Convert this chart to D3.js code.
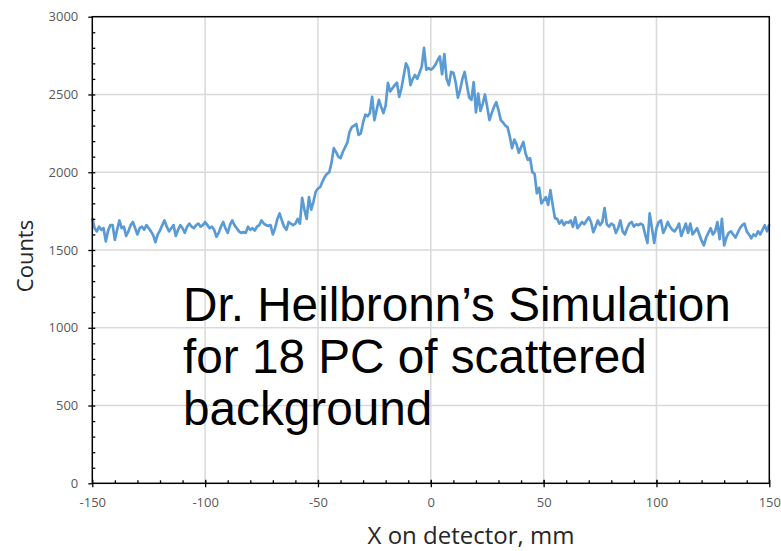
<!DOCTYPE html>
<html><head><meta charset="utf-8">
<script src="https://cdn.jsdelivr.net/npm/d3@7"></script>
<style>body{margin:0;background:#fff;}svg{display:block;}</style>
</head><body>
<script>
const xStart = -150, xStep = 1;
const counts = [
1705,1640,1620,1650,1630,1640,1555,1625,1660,1660,
1565,1630,1690,1640,1650,1590,1620,1660,1680,1640,
1600,1640,1650,1630,1660,1640,1620,1595,1550,1600,
1625,1660,1690,1650,1620,1640,1660,1590,1630,1660,
1640,1610,1650,1670,1650,1640,1660,1670,1650,1660,
1680,1660,1640,1650,1630,1585,1610,1650,1680,1640,
1610,1660,1690,1660,1640,1620,1610,1615,1610,1650,
1630,1640,1625,1650,1660,1690,1670,1660,1655,1660,
1600,1640,1700,1735,1690,1650,1630,1680,1670,1660,
1670,1700,1670,1835,1760,1700,1840,1760,1810,1875,
1895,1905,1940,1970,1990,2000,2060,2155,2130,2100,
2090,2130,2160,2190,2260,2290,2300,2310,2240,2250,
2320,2370,2360,2380,2485,2335,2400,2465,2420,2380,
2430,2575,2520,2540,2560,2575,2485,2540,2620,2700,
2670,2560,2600,2625,2600,2640,2680,2800,2660,2670,
2660,2670,2690,2720,2745,2630,2760,2600,2560,2645,
2640,2580,2480,2530,2600,2645,2560,2480,2465,2580,
2385,2505,2395,2440,2500,2420,2335,2380,2420,2450,
2400,2335,2320,2300,2290,2230,2155,2210,2180,2125,
2160,2195,2120,2080,2090,2000,1990,1865,1900,1800,
1820,1840,1790,1885,1790,1705,1700,1670,1690,1660,
1680,1675,1690,1650,1710,1640,1660,1680,1665,1690,
1710,1680,1615,1650,1690,1660,1680,1770,1665,1650,
1670,1660,1610,1640,1690,1620,1600,1640,1670,1680,
1650,1665,1660,1670,1660,1600,1545,1735,1640,1545,
1640,1680,1690,1610,1640,1680,1650,1630,1620,1640,
1670,1590,1630,1670,1610,1670,1600,1620,1640,1600,
1560,1530,1580,1610,1640,1600,1620,1680,1570,1700,
1530,1580,1610,1620,1600,1580,1610,1640,1660,1670,
1620,1600,1575,1600,1590,1620,1600,1630,1660,1620,
1665];
const xTicks = [-150,-100,-50,0,50,100,150];
const yTicks = [0,500,1000,1500,2000,2500,3000];
const xTitle = "X on detector, mm";
const yTitle = "Counts";
const noteLines = ["Dr. Heilbronn\u2019s Simulation","for 18 PC of scattered","background"];

const W = 781, H = 551;
const m = {left:92.3, right:W-769.3, top:16.7, bottom:H-483.3};
const svg = d3.select("body").append("svg").attr("width",W).attr("height",H);
const x = d3.scaleLinear().domain([-150,150]).range([m.left, W-m.right]);
const y = d3.scaleLinear().domain([0,3000]).range([H-m.bottom, m.top]);
const data = counts.map((v,i)=>({x:xStart+i*xStep, y:v}));
const fmt = d => String(d);

// grid
const g = svg.append("g");
g.selectAll(".gx").data(xTicks.slice(1,-1)).join("line")
 .attr("x1",d=>x(d)).attr("x2",d=>x(d)).attr("y1",y(0)).attr("y2",y(3000))
 .attr("stroke","#d9d9d9").attr("stroke-width",1.5);
g.selectAll(".gy").data(yTicks.slice(1,-1)).join("line")
 .attr("y1",d=>y(d)).attr("y2",d=>y(d)).attr("x1",x(-150)).attr("x2",x(150))
 .attr("stroke","#d9d9d9").attr("stroke-width",1.5);

// line
svg.append("path").datum(data)
 .attr("d", d3.line().x(d=>x(d.x)).y(d=>y(d.y)))
 .attr("fill","none").attr("stroke","#5b9bd5").attr("stroke-width",2.7)
 .attr("stroke-linejoin","round");

// frame
svg.append("rect").attr("x",x(-150)).attr("y",y(3000))
 .attr("width",x(150)-x(-150)).attr("height",y(0)-y(3000))
 .attr("fill","none").attr("stroke","#000").attr("stroke-width",1.5);

// y axis
const yAx = svg.append("g").attr("transform",`translate(${x(-150)},0)`)
 .call(d3.axisLeft(y).tickValues(yTicks).tickSize(4).tickPadding(10).tickFormat(fmt));
const yMinor = svg.append("g").attr("transform",`translate(${x(-150)},0)`)
 .call(d3.axisRight(y).tickValues(d3.range(100,3000,100)).tickSize(3).tickFormat(""));
// x axis
const xAx = svg.append("g").attr("transform",`translate(0,${y(0)})`)
 .call(d3.axisBottom(x).tickValues(xTicks).tickSize(4).tickPadding(10).tickFormat(fmt));
xAx.selectAll(".tick line").attr("y1",-3.5);
const xMinor = svg.append("g").attr("transform",`translate(0,${y(0)})`)
 .call(d3.axisTop(x).tickValues(d3.range(-140,150,10)).tickSize(3).tickFormat(""));
[yAx,yMinor,xAx,xMinor].forEach(a=>{
  a.select(".domain").remove();
  a.selectAll(".tick line").attr("stroke","#000").attr("stroke-width",1.3);
  a.selectAll("text").attr("fill","#595959").attr("font-family","Open Sans, sans-serif").attr("font-size",13);
});

// titles
svg.append("text").attr("x",471).attr("y",544).attr("text-anchor","middle")
 .attr("font-family","Open Sans, sans-serif").attr("font-size",24).attr("fill","#262626").text(xTitle);
svg.append("text").attr("transform","translate(33,256) rotate(-90)").attr("text-anchor","middle")
 .attr("font-family","Open Sans, sans-serif").attr("font-size",22).attr("fill","#262626").text(yTitle);

// annotation
svg.append("g").selectAll("text").data(noteLines).join("text")
 .attr("x",183).attr("y",(d,i)=>321+i*52)
 .attr("font-family","Liberation Sans, Arial, sans-serif").attr("font-size",47.7).attr("fill","#000")
 .text(d=>d);
</script>
</body></html>
